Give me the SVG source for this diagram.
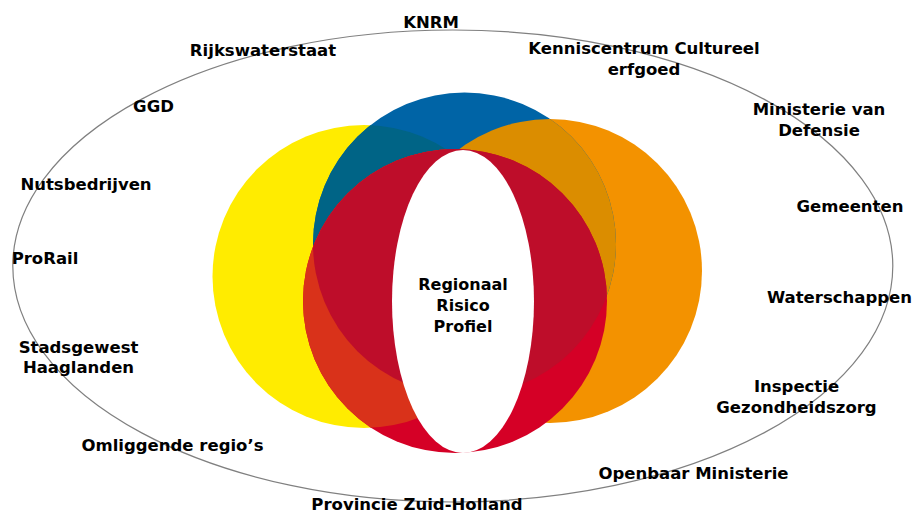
<svg xmlns="http://www.w3.org/2000/svg" width="913" height="515" viewBox="0 0 913 515">
  <style>
    .lbl { font-family: "DejaVu Sans", Verdana, sans-serif; font-weight: bold; font-size: 16.5px; fill: #000; }
    .ctr { font-size: 16px; }
    .mid { text-anchor: middle; }
  </style>
  <defs>
    <circle id="cY" cx="364" cy="276.5" r="151.5"/>
    <circle id="cO" cx="550" cy="271" r="152"/>
    <circle id="cB" cx="464.5" cy="244" r="151.5"/>
    <circle id="cR" cx="455" cy="301" r="152"/>
    <clipPath id="clipB"><use href="#cB"/></clipPath>
    <clipPath id="clipR"><use href="#cR"/></clipPath>
  </defs>

  <rect width="913" height="515" fill="#fff"/>

  <g id="outer">
    <ellipse cx="452.8" cy="266" rx="440" ry="236" fill="none" stroke="#808080" stroke-width="1.2"/>
  </g>

  <g id="venn">
    <use href="#cY" fill="#FFEC00"/>
    <use href="#cO" fill="#F39200"/>
    <use href="#cB" fill="#0064A6"/>
    <use href="#cY" fill="#006486" clip-path="url(#clipB)"/>
    <use href="#cO" fill="#DB8D00" clip-path="url(#clipB)"/>
    <use href="#cR" fill="#D50026"/>
    <use href="#cY" fill="#D9321A" clip-path="url(#clipR)"/>
    <use href="#cB" fill="#BE0D2A" clip-path="url(#clipR)"/>
  </g>

  <g id="center">
    <ellipse cx="463" cy="301.5" rx="71" ry="151.5" fill="#fff"/>
    <text class="lbl ctr mid" x="463" y="290">Regionaal</text>
    <text class="lbl ctr mid" x="463" y="311">Risico</text>
    <text class="lbl ctr mid" x="463" y="332">Profiel</text>
  </g>

  <g id="labels">
    <g id="knrm"><text class="lbl mid" x="431" y="28">KNRM</text></g>
    <g id="rijkswaterstaat"><text class="lbl mid" x="263" y="56">Rijkswaterstaat</text></g>
    <g id="kenniscentrum">
      <text class="lbl mid" x="644" y="54">Kenniscentrum Cultureel</text>
      <text class="lbl mid" x="644" y="75">erfgoed</text>
    </g>
    <g id="ggd"><text class="lbl mid" x="153.5" y="112">GGD</text></g>
    <g id="defensie">
      <text class="lbl mid" x="819" y="115">Ministerie van</text>
      <text class="lbl mid" x="819" y="136">Defensie</text>
    </g>
    <g id="nutsbedrijven"><text class="lbl mid" x="86" y="190">Nutsbedrijven</text></g>
    <g id="gemeenten"><text class="lbl mid" x="850" y="212">Gemeenten</text></g>
    <g id="prorail"><text class="lbl mid" x="45" y="264">ProRail</text></g>
    <g id="waterschappen"><text class="lbl mid" x="839.5" y="303">Waterschappen</text></g>
    <g id="stadsgewest">
      <text class="lbl mid" x="78.5" y="353">Stadsgewest</text>
      <text class="lbl mid" x="78.5" y="373">Haaglanden</text>
    </g>
    <g id="inspectie">
      <text class="lbl mid" x="796.5" y="392">Inspectie</text>
      <text class="lbl mid" x="796.5" y="413">Gezondheidszorg</text>
    </g>
    <g id="omliggende"><text class="lbl mid" x="172.5" y="451">Omliggende regio’s</text></g>
    <g id="om"><text class="lbl mid" x="693.5" y="479">Openbaar Ministerie</text></g>
    <g id="provincie"><text class="lbl mid" x="417" y="510">Provincie Zuid-Holland</text></g>
  </g>
</svg>
